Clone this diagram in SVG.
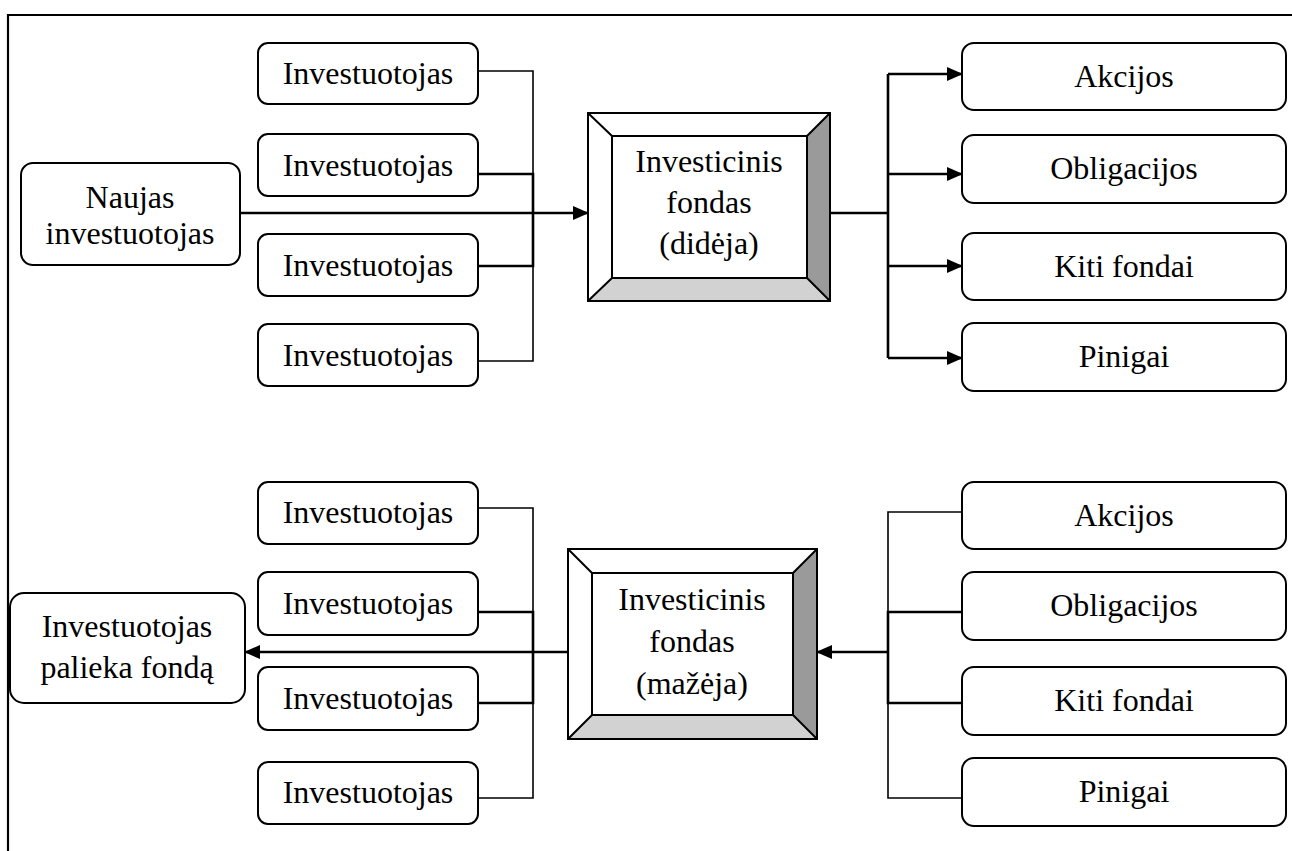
<svg xmlns="http://www.w3.org/2000/svg" width="1292" height="851" viewBox="0 0 1292 851">
  <style>
    .box { fill: #ffffff; stroke: #000000; stroke-width: 2; }
    .lbl { font-family: "Liberation Serif", "Times New Roman", serif; font-size: 32px; fill: #000000; text-anchor: middle; }
    .thin { fill: none; stroke: #000000; stroke-width: 1.6; }
    .thick { fill: none; stroke: #000000; stroke-width: 2.6; }
    .edge { fill: none; stroke: #000000; stroke-width: 2; }
    .light { fill: #ffffff; }
    .dark { fill: #9a9a9a; }
    .mid { fill: #d2d2d2; }
  </style>
  <defs>
    <marker id="arrow" markerWidth="16" markerHeight="14" refX="15" refY="7" orient="auto" markerUnits="userSpaceOnUse">
      <path d="M0,0 L16,7 L0,14 Z" fill="#000000"/>
    </marker>
  </defs>

  <rect width="1292" height="851" fill="#ffffff"/>

  <!-- page frame: top and left rules -->
  <path d="M8,851 V15 H1292" fill="none" stroke="#000000" stroke-width="2.2"/>

  <!-- connectors -->
  <g id="connectors">
    <!-- upper half: investors feed the growing fund -->
    <path class="thin" d="M478,71 H533 V361 H478"/>
    <path class="thick" d="M478,174 H533 V266 H478"/>
    <path class="thick" d="M240,213 H588" marker-end="url(#arrow)"/>
    <path class="thick" d="M815,213 H888"/>
    <path class="thick" d="M888,74 V358"/>
    <path class="thick" d="M888,74 H962" marker-end="url(#arrow)"/>
    <path class="thick" d="M888,174 H962" marker-end="url(#arrow)"/>
    <path class="thick" d="M888,266 H962" marker-end="url(#arrow)"/>
    <path class="thick" d="M888,358 H962" marker-end="url(#arrow)"/>

    <!-- lower half: assets drain from the shrinking fund -->
    <path class="thin" d="M478,508 H533 V798 H478"/>
    <path class="thick" d="M478,612 H533 V703 H478"/>
    <path class="thick" d="M568,652 H245" marker-end="url(#arrow)"/>
    <path class="thin" d="M962,512 H888 V798 H962"/>
    <path class="thick" d="M962,612 H888 V703 H962"/>
    <path class="thick" d="M888,652 H817" marker-end="url(#arrow)"/>
  </g>

  <!-- upper half -->
  <g id="new-investor">
    <rect class="box" x="21" y="163" width="219" height="102" rx="12"/>
    <text class="lbl" x="130" y="208">Naujas</text>
    <text class="lbl" x="130" y="244">investuotojas</text>
  </g>

  <g id="investor-top-1">
    <rect class="box" x="258" y="43" width="220" height="61" rx="10"/>
    <text class="lbl" x="368" y="84">Investuotojas</text>
  </g>
  <g id="investor-top-2">
    <rect class="box" x="258" y="134" width="220" height="62" rx="10"/>
    <text class="lbl" x="368" y="176">Investuotojas</text>
  </g>
  <g id="investor-top-3">
    <rect class="box" x="258" y="234" width="220" height="62" rx="10"/>
    <text class="lbl" x="368" y="276">Investuotojas</text>
  </g>
  <g id="investor-top-4">
    <rect class="box" x="258" y="324" width="220" height="62" rx="10"/>
    <text class="lbl" x="368" y="366">Investuotojas</text>
  </g>

  <g id="fund-growing">
    <polygon class="light" points="588,113 830,113 807,136 612,136"/>
    <polygon class="light" points="588,113 612,136 612,278 588,301"/>
    <polygon class="dark" points="830,113 830,301 807,278 807,136"/>
    <polygon class="mid" points="588,301 612,278 807,278 830,301"/>
    <rect class="edge" x="588" y="113" width="242" height="188"/>
    <rect class="edge" x="612" y="136" width="195" height="142" fill="#ffffff"/>
    <path class="edge" d="M588,113 L612,136 M830,113 L807,136 M588,301 L612,278 M830,301 L807,278"/>
    <text class="lbl" x="709" y="172">Investicinis</text>
    <text class="lbl" x="709" y="213">fondas</text>
    <text class="lbl" x="709" y="254">(didėja)</text>
  </g>

  <g id="asset-top-stocks">
    <rect class="box" x="962" y="43" width="324" height="67" rx="12"/>
    <text class="lbl" x="1124" y="87">Akcijos</text>
  </g>
  <g id="asset-top-bonds">
    <rect class="box" x="962" y="135" width="324" height="68" rx="12"/>
    <text class="lbl" x="1124" y="179">Obligacijos</text>
  </g>
  <g id="asset-top-funds">
    <rect class="box" x="962" y="233" width="324" height="67" rx="12"/>
    <text class="lbl" x="1124" y="277">Kiti fondai</text>
  </g>
  <g id="asset-top-cash">
    <rect class="box" x="962" y="323" width="324" height="68" rx="12"/>
    <text class="lbl" x="1124" y="367">Pinigai</text>
  </g>

  <!-- lower half -->
  <g id="leaving-investor">
    <rect class="box" x="10" y="593" width="235" height="110" rx="14"/>
    <text class="lbl" x="127" y="637">Investuotojas</text>
    <text class="lbl" x="127" y="678">palieka fondą</text>
  </g>

  <g id="investor-bottom-1">
    <rect class="box" x="258" y="482" width="220" height="62" rx="10"/>
    <text class="lbl" x="368" y="523">Investuotojas</text>
  </g>
  <g id="investor-bottom-2">
    <rect class="box" x="258" y="572" width="220" height="63" rx="10"/>
    <text class="lbl" x="368" y="614">Investuotojas</text>
  </g>
  <g id="investor-bottom-3">
    <rect class="box" x="258" y="667" width="220" height="63" rx="10"/>
    <text class="lbl" x="368" y="709">Investuotojas</text>
  </g>
  <g id="investor-bottom-4">
    <rect class="box" x="258" y="762" width="220" height="62" rx="10"/>
    <text class="lbl" x="368" y="803">Investuotojas</text>
  </g>

  <g id="fund-shrinking">
    <polygon class="light" points="568,549 817,549 793,573 592,573"/>
    <polygon class="light" points="568,549 592,573 592,715 568,739"/>
    <polygon class="dark" points="817,549 817,739 793,715 793,573"/>
    <polygon class="mid" points="568,739 592,715 793,715 817,739"/>
    <rect class="edge" x="568" y="549" width="249" height="190"/>
    <rect class="edge" x="592" y="573" width="201" height="142" fill="#ffffff"/>
    <path class="edge" d="M568,549 L592,573 M817,549 L793,573 M568,739 L592,715 M817,739 L793,715"/>
    <text class="lbl" x="692" y="610">Investicinis</text>
    <text class="lbl" x="692" y="652">fondas</text>
    <text class="lbl" x="692" y="694">(mažėja)</text>
  </g>

  <g id="asset-bottom-stocks">
    <rect class="box" x="962" y="482" width="324" height="67" rx="12"/>
    <text class="lbl" x="1124" y="526">Akcijos</text>
  </g>
  <g id="asset-bottom-bonds">
    <rect class="box" x="962" y="572" width="324" height="68" rx="12"/>
    <text class="lbl" x="1124" y="616">Obligacijos</text>
  </g>
  <g id="asset-bottom-funds">
    <rect class="box" x="962" y="667" width="324" height="68" rx="12"/>
    <text class="lbl" x="1124" y="711">Kiti fondai</text>
  </g>
  <g id="asset-bottom-cash">
    <rect class="box" x="962" y="758" width="324" height="68" rx="12"/>
    <text class="lbl" x="1124" y="802">Pinigai</text>
  </g>
</svg>
